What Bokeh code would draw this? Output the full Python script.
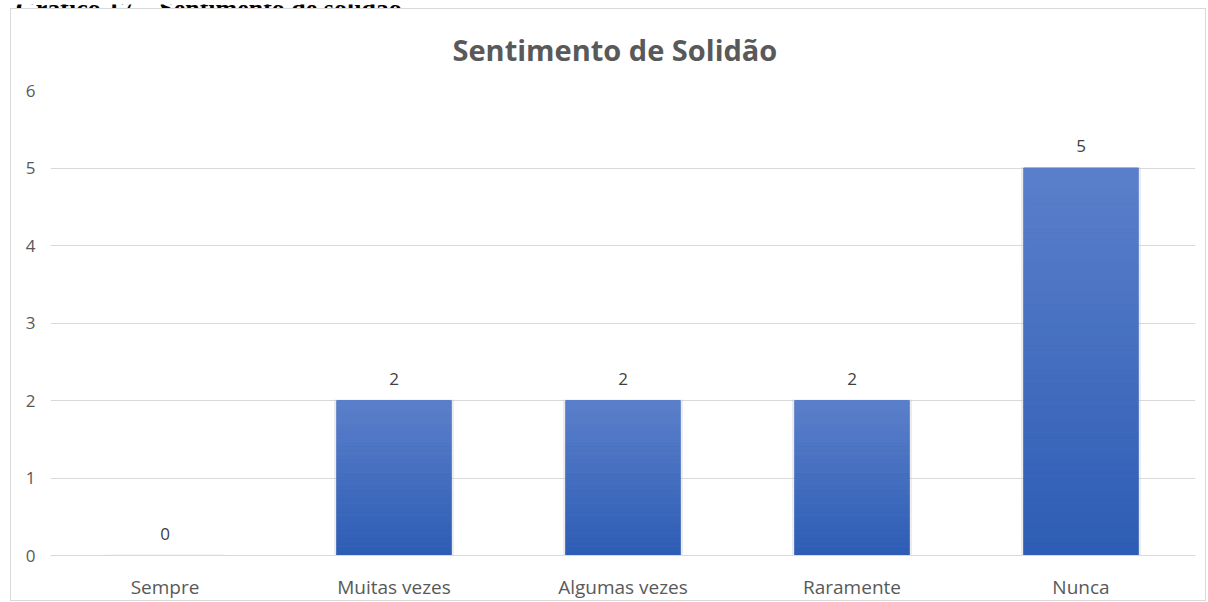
import numpy as np
from bokeh.plotting import figure
from bokeh.models import ColumnDataSource, FactorRange
from bokeh.layouts import column
from bokeh.core.properties import value
from bokeh.embed import file_html
from bokeh.resources import INLINE

# ---- data ----
categories = ["Sempre", "Muitas vezes", "Algumas vezes", "Raramente", "Nunca"]
counts = [0, 2, 2, 2, 5]
y_ticks = [0, 1, 2, 3, 4, 5, 6]
chart_title = "Sentimento de Solidão"
caption = "Gráfico 17 – Sentimento de solidão"

# ---- styling ----
W, H = 1208, 594
FL, FR, FT, FB = 50, 13, 82, 45
TXT = "#595959"
GRID = "#d9d9d9"
TOP_C = np.array([0x5B, 0x80, 0xCB])
BOT_C = np.array([0x2E, 0x5D, 0xB5])
FONT = "Open Sans"

p = figure(x_range=FactorRange(*categories, range_padding=0), y_range=(0, 6),
           width=W, height=H, output_backend="svg", toolbar_location=None,
           min_border_left=FL, min_border_right=FR, min_border_top=FT, min_border_bottom=FB)
p.outline_line_color = None
p.background_fill_color = "white"
p.border_fill_color = None

# light chart border, painted behind the transparent canvas border
line = "linear-gradient(#d9d9d9,#d9d9d9)"
p.styles = {
    "background-color": "white",
    "background-image": ", ".join([line] * 4),
    "background-repeat": "no-repeat",
    "background-size": "1px 593px, 1px 593px, 1196px 1px, 1196px 1px",
    "background-position": "10px 0px, 1205px 0px, 10px 0px, 10px 592px",
}

p.title.text = chart_title
p.title.align = "left"
p.title.offset = 402
p.title.vertical_align = "top"
p.title.text_font = FONT
p.title.text_font_style = "bold"
p.title.text_font_size = "29px"
p.title.text_color = TXT
p.title.standoff = 40

# shadow behind bars
p.quad(left=[(c, -0.262) for c in categories], right=[(c, 0.262) for c in categories],
       bottom=[-0.022] * len(categories), top=[v + 0.012 for v in counts],
       fill_color="#c8c8c8", fill_alpha=0.35, line_color=None)

# gradient bars built from slices of each bar
N = 60
xs_l, xs_r, bots, tops, cols = [], [], [], [], []
for c, v in zip(categories, counts):
    if v <= 0:
        continue
    edges = np.linspace(0, v, N + 1)
    for i in range(N):
        f = (i + 0.5) / N  # 0 bottom -> 1 top
        rgb = (BOT_C + (TOP_C - BOT_C) * f).astype(int)
        xs_l.append((c, -0.25))
        xs_r.append((c, 0.25))
        bots.append(edges[i])
        tops.append(edges[i + 1])
        cols.append("#%02x%02x%02x" % tuple(rgb))
src = ColumnDataSource(dict(l=xs_l, r=xs_r, b=bots, t=tops, c=cols))
p.quad(left="l", right="r", bottom="b", top="t", fill_color="c", line_color="c", line_width=1, source=src)

# value labels
lab = ColumnDataSource(dict(x=categories, y=counts, t=[str(v) for v in counts]))
p.text(x="x", y="y", text="t", source=lab, text_align="center", text_baseline="middle",
       y_offset=-22, text_font=value(FONT), text_font_size="17px", text_color="#404040")

# axes
p.yaxis.ticker = y_ticks
p.yaxis.axis_line_color = None
p.yaxis.major_tick_line_color = None
p.yaxis.minor_tick_line_color = None
p.yaxis.major_label_standoff = 9
p.yaxis.major_label_text_font = FONT
p.yaxis.major_label_text_font_size = "17px"
p.yaxis.major_label_text_color = TXT

p.xaxis.axis_line_color = GRID
p.xaxis.major_tick_line_color = None
p.xaxis.minor_tick_line_color = None
p.xaxis.major_label_standoff = 12
p.xaxis.major_label_text_font = FONT
p.xaxis.major_label_text_font_size = "19px"
p.xaxis.major_label_text_color = TXT

p.xgrid.grid_line_color = None
p.ygrid.grid_line_color = GRID
p.ygrid.grid_line_width = 1

# page caption strip above the chart (cut off at the top as in the source)
cap_fig = figure(frame_width=W, frame_height=8, x_range=(0, W), y_range=(0, 8),
                 output_backend="svg", toolbar_location=None,
                 x_axis_type=None, y_axis_type=None, min_border=0,
                 min_border_left=0, min_border_right=0, min_border_top=0, min_border_bottom=0)
cap_fig.outline_line_color = None
cap_fig.grid.visible = False
if "frame_align" in cap_fig.properties():
    cap_fig.frame_align = False
    p.frame_align = False
cap_src = ColumnDataSource(dict(x=[15], y=[4], t=[caption]))
cap_fig.text(x="x", y="y", text="t", source=cap_src, text_align="left", text_baseline="alphabetic",
             text_font=value("Liberation Serif"), text_font_style="bold", text_font_size="26px",
             text_color="black")

layout = column(cap_fig, p, spacing=0)
open("out.html", "w").write(file_html(layout, INLINE))
